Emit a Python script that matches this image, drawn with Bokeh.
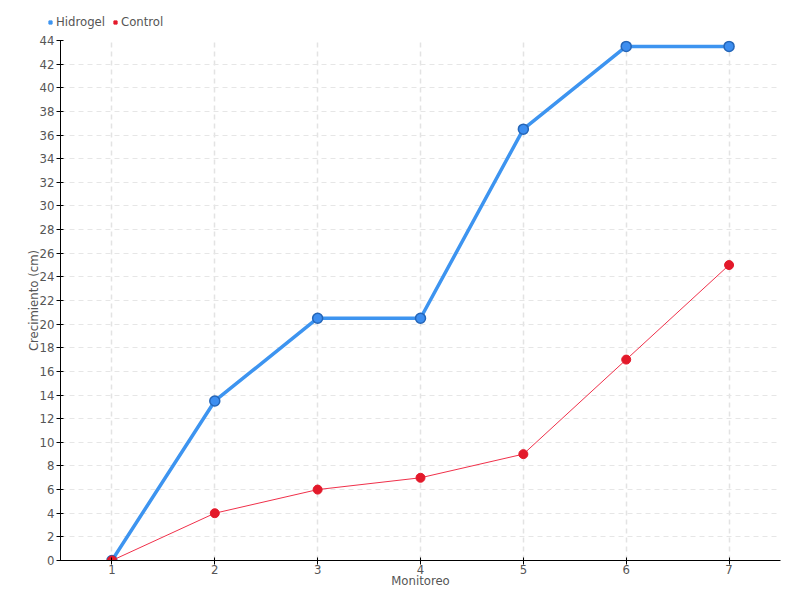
from bokeh.plotting import figure
from bokeh.layouts import column
from bokeh.models import Legend, LegendItem, ColumnDataSource, FixedTicker, Range1d
from bokeh.embed import file_html
from bokeh.resources import INLINE

monitoreo = [1, 2, 3, 4, 5, 6, 7]
hidrogel = [0, 13.5, 20.5, 20.5, 36.5, 43.5, 43.5]
control = [0, 4, 6, 7, 9, 17, 25]
y_ticks = list(range(0, 45, 2))

FONT = "DejaVu Sans Condensed"
BLUE = "#3d94f0"
RED = "#e3192a"

src_h = ColumnDataSource(dict(x=monitoreo, y=hidrogel))
src_c = ColumnDataSource(dict(x=monitoreo, y=control))

# legend strip above the plot
top = figure(width=800, height=30, output_backend="svg", toolbar_location=None,
             x_range=Range1d(100, 101), y_range=Range1d(100, 101),
             x_axis_type=None, y_axis_type=None,
             min_border_left=0, min_border_right=0, min_border_top=0, min_border_bottom=0)
top.grid.visible = False
top.outline_line_color = None
legend_x = 46
try:
    top.frame_align = False
except Exception:
    legend_x = 0
lh = top.scatter("x", "y", source=src_h, marker="square", size=8, fill_color=BLUE, line_color=BLUE)
lc = top.scatter("x", "y", source=src_c, marker="square", size=8, fill_color=RED, line_color=RED)
legend = Legend(items=[LegendItem(label="Hidrogel", renderers=[lh], index=0),
                       LegendItem(label="Control", renderers=[lc], index=0)],
                orientation="horizontal", location=(legend_x, 1),
                border_line_color=None, background_fill_alpha=0,
                padding=0, margin=0, spacing=6, label_standoff=2,
                glyph_width=8, glyph_height=14, label_height=14,
                label_text_font=FONT, label_text_font_size="13px", label_text_color="#555555")
top.add_layout(legend, "center")

p = figure(width=800, height=570, output_backend="svg", toolbar_location=None,
           x_range=Range1d(0.5, 7.5), y_range=Range1d(0, 44),
           min_border_left=60, min_border_right=20, min_border_top=10, min_border_bottom=40)
p.outline_line_color = None
p.background_fill_color = "white"

p.line("x", "y", source=src_h, line_color=BLUE, line_width=3.5)
p.scatter("x", "y", source=src_h, size=10, fill_color="#3d8ef0", line_color="#2566b8", line_width=1.5)
p.line("x", "y", source=src_c, line_color="#f0304a", line_width=1)
p.scatter("x", "y", source=src_c, size=9, fill_color=RED, line_color=RED)

for ax in (p.xaxis, p.yaxis):
    ax.axis_line_color = "black"
    ax.major_tick_line_color = "black"
    ax.minor_tick_line_color = None
    ax.major_tick_out = 4
    ax.major_tick_in = 3
    ax.major_label_text_font = FONT
    ax.major_label_text_font_size = "13px"
    ax.major_label_text_color = "#555555"
    ax.axis_label_text_font = FONT
    ax.axis_label_text_font_size = "13px"
    ax.axis_label_text_color = "#555555"
    ax.axis_label_text_font_style = "normal"

p.xaxis.ticker = FixedTicker(ticks=monitoreo)
p.yaxis.ticker = FixedTicker(ticks=y_ticks)
p.xaxis.axis_label = "Monitoreo"
p.yaxis.axis_label = "Crecimiento (cm)"
p.xaxis.axis_label_standoff = -4
p.yaxis.axis_label_standoff = -4
p.xaxis.major_label_standoff = 0
p.yaxis.major_label_standoff = 2

for g in (p.xgrid, p.ygrid):
    g.grid_line_color = "#e6e6e6"
    g.grid_line_dash = "5 4"
    g.grid_line_width = 1
p.xgrid.grid_line_color = "#e3e3e3"
p.xgrid.grid_line_width = 1.5

layout = column(top, p, spacing=0)
open("out.html", "w").write(file_html(layout, INLINE))
